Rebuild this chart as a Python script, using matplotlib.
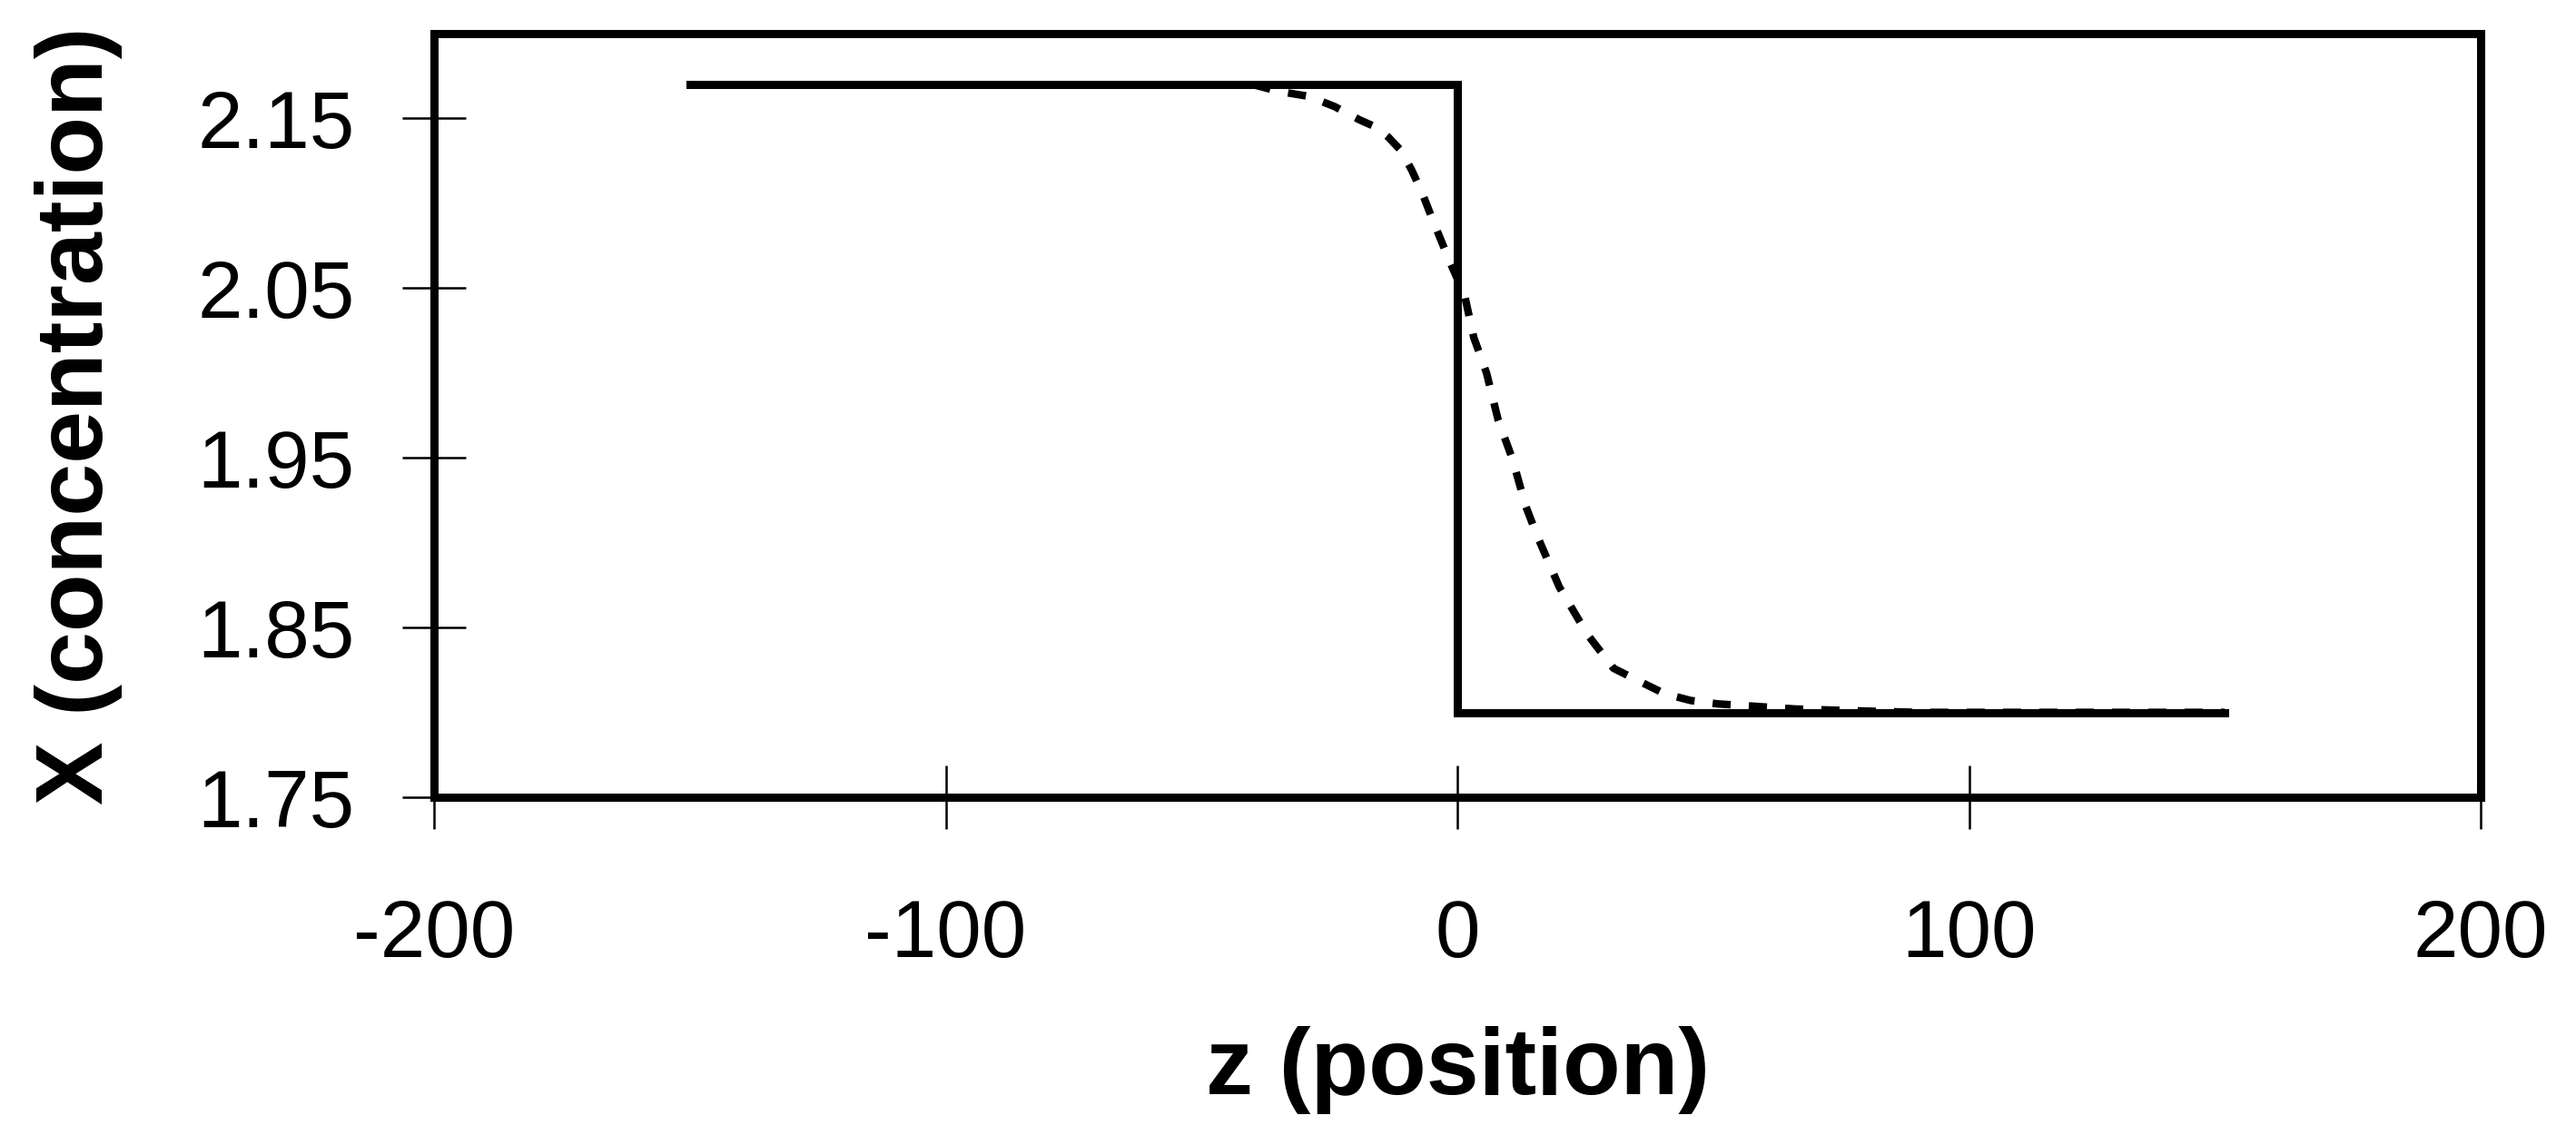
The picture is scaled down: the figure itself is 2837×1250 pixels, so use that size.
import numpy as np
import matplotlib.pyplot as plt

plt.rcParams['font.family'] = ['Liberation Sans', 'DejaVu Sans']
plt.rcParams['axes.unicode_minus'] = False

# sharp interface profile (solid)
z_step = [-150, 0, 0, 150]
x_step = [2.17, 2.17, 1.80, 1.80]

# diffused profile (dashed)
z_diff = [-40, -35, -29, -24, -19, -16, -13.5, -11, -9, -7, -4.8, -1.4, 1.4,
          3.2, 5.7, 8, 10.8, 13.3, 15.6, 19.9, 25.4, 30.5, 35.8, 40.5, 45.6,
          50.9, 56, 66, 77, 90, 110, 130, 150]
x_diff = [2.170, 2.166, 2.163, 2.157, 2.149, 2.145, 2.139, 2.131, 2.120,
          2.107, 2.090, 2.065, 2.046, 2.021, 2.000, 1.972, 1.949, 1.922,
          1.904, 1.874, 1.846, 1.826, 1.818, 1.811, 1.807, 1.805, 1.804,
          1.802, 1.801, 1.800, 1.800, 1.800, 1.800]

x_ticks = [-200, -100, 0, 100, 200]
y_ticks = [1.75, 1.85, 1.95, 2.05, 2.15]

fig = plt.figure(figsize=(28.37, 12.5), dpi=100)
ax = fig.add_axes([0.1685, 0.2976, 0.7945, 0.6728])

ax.plot(z_diff, x_diff, color='black', lw=6, dashes=(2.4, 2.4))
ax.plot(z_step, x_step, color='black', lw=6.5, solid_joinstyle='miter')

ax.set_xlim(-200, 200)
ax.set_ylim(1.75, 2.20)
ax.set_xticks(x_ticks)
ax.set_yticks(y_ticks)
ax.set_yticklabels(['%.2f' % v for v in y_ticks])

for s in ax.spines.values():
    s.set_linewidth(6.5)
    s.set_color('black')

ax.tick_params(axis='both', direction='inout', length=50, width=1.8,
               labelsize=64, colors='black')
ax.tick_params(axis='y', pad=38)
ax.tick_params(axis='x', pad=55)

ax.set_xlabel('z (position)', fontsize=75, fontweight='bold')
ax.set_ylabel('X (concentration)', fontsize=75, fontweight='bold')
ax.xaxis.set_label_coords(0.5, -0.30)
ax.yaxis.set_label_coords(-0.152, 0.5)

fig.savefig('out.png', dpi=100)
